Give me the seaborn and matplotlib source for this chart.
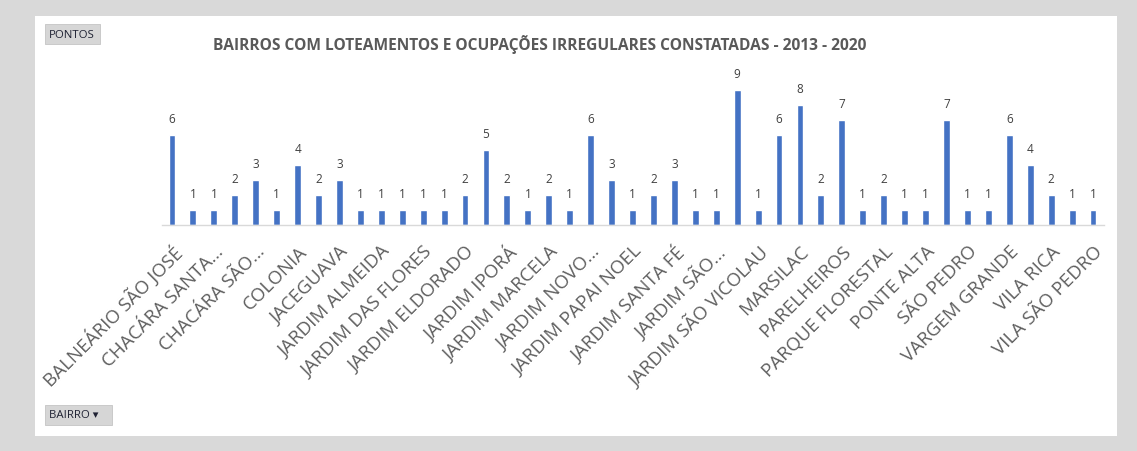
import numpy as np
import pandas as pd
import matplotlib.pyplot as plt
import seaborn as sns
from matplotlib.patches import Rectangle

# values, one per bar (only every other bar has a visible label)
pontos = [6, 1, 1, 2, 3, 1, 4, 2, 3, 1, 1, 1, 1, 1, 2, 5, 2, 1, 2, 1,
          6, 3, 1, 2, 3, 1, 1, 9, 1, 6, 8, 2, 7, 1, 2, 1, 1, 7, 1, 1,
          6, 4, 2, 1, 1]
bairros_visiveis = ["BALNEÁRIO SÃO JOSÉ", "CHACÁRA SANTA…", "CHACÁRA SÃO…",
                    "COLONIA", "JACEGUAVA", "JARDIM ALMEIDA", "JARDIM DAS FLORES",
                    "JARDIM ELDORADO", "JARDIM IPORÁ", "JARDIM MARCELA",
                    "JARDIM NOVO…", "JARDIM PAPAI NOEL", "JARDIM SANTA FÉ",
                    "JARDIM SÃO…", "JARDIM SÃO VICOLAU", "MARSILAC", "PARELHEIROS",
                    "PARQUE FLORESTAL", "PONTE ALTA", "SÃO PEDRO", "VARGEM GRANDE",
                    "VILA RICA", "VILA SÃO PEDRO"]
titulo = "BAIRROS COM LOTEAMENTOS E OCUPAÇÕES IRREGULARES CONSTATADAS - 2013 - 2020"

df = pd.DataFrame({"pos": np.arange(len(pontos)), "PONTOS": pontos})

sns.set_style("white")
plt.rcParams["font.family"] = ["Open Sans", "DejaVu Sans"]

W, H = 1137, 452
fig = plt.figure(figsize=(W / 100, H / 100), dpi=100)
fig.patch.set_facecolor("#d9d9d9")

# white chart panel (behind the axes)
fig.patches.append(Rectangle((35 / W, 1 - 437 / H), (1117 - 35) / W, (437 - 17) / H,
                             transform=fig.transFigure, facecolor="white",
                             edgecolor="none", zorder=-5))

ax = fig.add_axes([161.5 / W, 1 - 226 / H, (1103.5 - 161.5) / W, 150 / H])
ax.set_facecolor("none")
sns.barplot(data=df, x="pos", y="PONTOS", color="#4472C4", width=0.33,
            saturation=1, ax=ax)
ax.bar_label(ax.containers[0], padding=7, fontsize=8.5, color="#404040")
ax.set_ylim(0, 10)
ax.set_xlim(-0.5, len(pontos) - 0.5)
ax.set_yticks([])
ax.set_xticks(range(0, len(pontos), 2))
ax.set_xticklabels(bairros_visiveis, rotation=45, ha="right",
                   rotation_mode="anchor", fontsize=13.5, color="#5f5f5f")
ax.tick_params(axis="x", length=0, pad=12)
ax.set_xlabel("")
ax.set_ylabel("")
for s in ["top", "right", "left"]:
    ax.spines[s].set_visible(False)
ax.spines["bottom"].set_color("#d9d9d9")
ax.spines["bottom"].set_linewidth(1)

fig.text(540 / W, 1 - 44 / H, titulo, ha="center", va="center",
         fontsize=11.2, fontweight="bold", color="#595959")

# field buttons
for (x0, y0, x1, y1, txt) in [(45, 25, 100, 45, "PONTOS"), (45, 406, 112, 426, "BAIRRO ▾")]:
    fig.patches.append(Rectangle((x0 / W, 1 - y1 / H), (x1 - x0) / W, (y1 - y0) / H,
                                 transform=fig.transFigure, facecolor="#d6d6d6",
                                 edgecolor="#c4c4c4", linewidth=0.6, zorder=1))
    fig.text((x0 + 4) / W, 1 - (y0 + y1) / 2 / H, txt, ha="left", va="center",
             fontsize=8.2, color="#1f2233", family=["Open Sans", "DejaVu Sans"])

plt.savefig("out.png", dpi=100, facecolor=fig.get_facecolor())
